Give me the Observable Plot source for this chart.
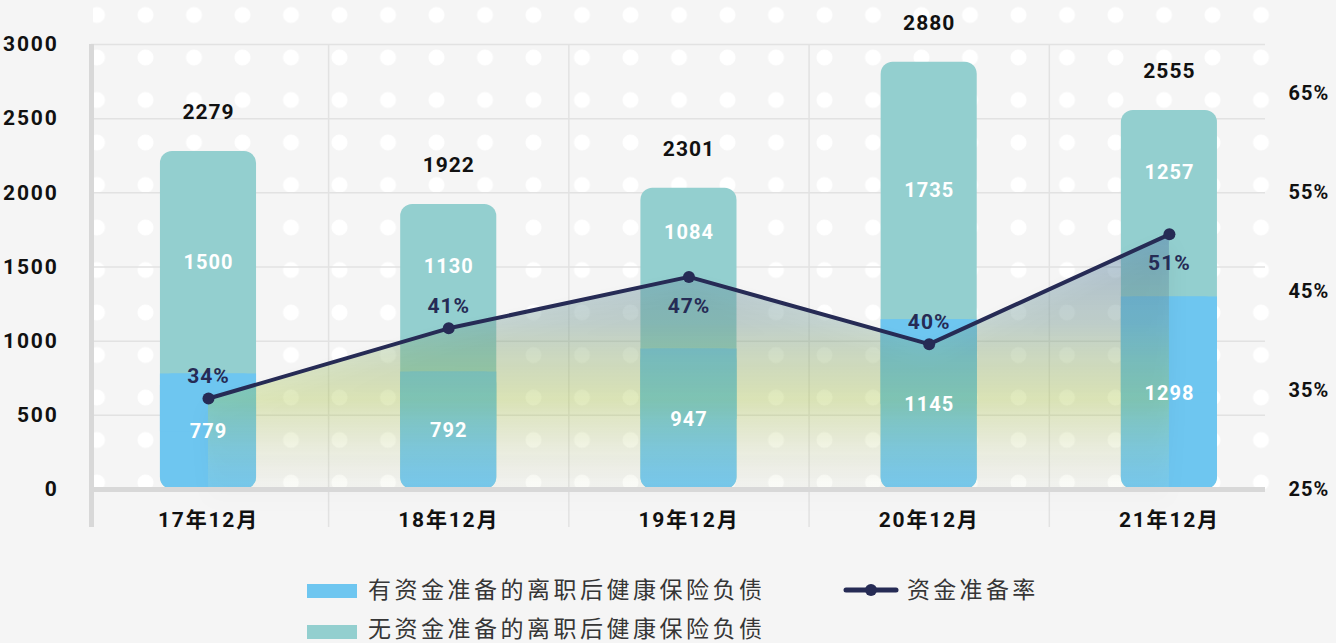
<!DOCTYPE html>
<html>
<head>
<meta charset="utf-8">
<script src="https://cdn.jsdelivr.net/npm/d3@7"></script>
<script src="https://cdn.jsdelivr.net/npm/@observablehq/plot@0.6"></script>
<style>
  html, body { margin: 0; padding: 0; background: #f5f5f5; }
  #wrap { position: relative; width: 1336px; height: 643px; overflow: hidden; background: #f5f5f5; }
  #dots { position: absolute; left: 93px; top: 0; width: 1182px; height: 490px;
    background-image: radial-gradient(circle, #ffffff 7.5px, rgba(255,255,255,0) 8.3px);
    background-size: 48.5px 42.5px; background-position: -20.25px -6.25px; }
  #chart { position: absolute; left: 0; top: 0; }
  .leg { position: absolute; font-family: "Noto Sans CJK SC", "Noto Sans", sans-serif; font-size: 23px; color: #363636; line-height: 1; white-space: nowrap; }
  .sw { position: absolute; width: 50px; height: 14px; }
</style>
</head>
<body>
<div id="wrap">
  <div id="dots"></div>
  <div id="chart"></div>
  <div class="sw" style="left:307px; top:584px; background:#6EC6F0"></div>
  <div class="leg" id="leg1" style="left:368px; top:577px; letter-spacing:3.5px"></div>
  <div class="sw" style="left:307px; top:625px; background:#93CFCF"></div>
  <div class="leg" id="leg2" style="left:368px; top:616px; letter-spacing:3.5px"></div>
  <svg style="position:absolute; left:842px; top:582px" width="60" height="16">
    <line x1="4" y1="8" x2="54" y2="8" stroke="#262B55" stroke-width="5" stroke-linecap="round"></line>
    <circle cx="29" cy="8" r="6" fill="#262B55"></circle>
  </svg>
  <div class="leg" id="leg3" style="left:907px; top:577px; letter-spacing:3.3px"></div>
</div>
<script>
// ---- data ----
const categories = ["17年12月", "18年12月", "19年12月", "20年12月", "21年12月"];
const funded = [779, 792, 947, 1145, 1298];
const unfunded = [1500, 1130, 1084, 1735, 1257];
const totalLabels = [2279, 1922, 2301, 2880, 2555];
const fundingRate = [34.2, 41.3, 46.5, 39.7, 50.8];
const leftTicks = [0, 500, 1000, 1500, 2000, 2500, 3000];
const rightTicks = [25, 35, 45, 55, 65];
const seriesNames = ["有资金准备的离职后健康保险负债", "无资金准备的离职后健康保险负债", "资金准备率"];

// ---- layout / style ----
const W = 1336, H = 550;
const rightMin = 25, rightMax = 70, leftMax = 3000;
const toLeft = p => (p - rightMin) * leftMax / (rightMax - rightMin);
const xDomain = [-0.487, 4.40];
const half = 0.2;
const BLUE = "#6EC6F0", TEAL = "#93CFCF", NAVY = "#262B55", GRID = "#e2e2e2", AXIS = "#d8d8d8";
const FONT = "Roboto, 'Noto Sans CJK SC', sans-serif";

const data = categories.map((c, i) => {
  const r = fundingRate[i];
  const prev = i > 0 ? fundingRate[i - 1] : -Infinity;
  const next = i < categories.length - 1 ? fundingRate[i + 1] : -Infinity;
  const rateY = toLeft(r);
  const total = funded[i] + unfunded[i];
  return {
    i, c, funded: funded[i], unfunded: unfunded[i], total,
    label: totalLabels[i], rate: r, rateY,
    rateText: Math.round(r) + "%",
    peak: r > prev && r > next,
    unfundedPos: (total + Math.max(funded[i], rateY)) / 2
  };
});

document.getElementById("leg1").textContent = seriesNames[0];
document.getElementById("leg2").textContent = seriesNames[1];
document.getElementById("leg3").textContent = seriesNames[2];

const chart = Plot.plot({
  width: W, height: H,
  marginLeft: 91, marginRight: 71, marginTop: 44, marginBottom: H - 527,
  style: { background: "transparent", fontFamily: FONT, overflow: "visible" },
  x: { type: "linear", domain: xDomain, axis: null },
  y: { domain: [0, leftMax], insetBottom: 38, axis: null },
  marks: [
    Plot.ruleY(leftTicks.filter(t => t > 0), { stroke: GRID, strokeWidth: 1.5 }),
    Plot.ruleX(data.slice(0, -1), { x: d => d.i + 0.5, stroke: GRID, strokeWidth: 1.5 }),
    Plot.rect(data, { x1: d => d.i - half, x2: d => d.i + half, y1: 0, y2: "total", fill: TEAL, rx: 12 }),
    Plot.rect(data, { x1: d => d.i - half, x2: d => d.i + half, y1: 0, y2: "funded", fill: BLUE, rx: 12 }),
    Plot.rect(data, { x1: d => d.i - half, x2: d => d.i + half, y1: d => d.funded / 2, y2: "funded", fill: BLUE }),
    Plot.areaY(data, { x: "i", y1: 0, y2: "rateY", fill: "url(#rateGrad)" }),
    Plot.ruleY([0], { stroke: AXIS, strokeWidth: 5 }),
    Plot.ruleX([xDomain[0]], { stroke: AXIS, strokeWidth: 5 }),
    Plot.line(data, { x: "i", y: "rateY", stroke: NAVY, strokeWidth: 4 }),
    Plot.dot(data, { x: "i", y: "rateY", r: 6, fill: NAVY }),
    // in-bar labels
    Plot.text(data, { x: "i", y: d => d.funded / 2, text: d => String(d.funded), fill: "white", fontSize: 20, fontWeight: 700, className: "sp1" }),
    Plot.text(data, { x: "i", y: "unfundedPos", text: d => String(d.unfunded), fill: "white", fontSize: 20, fontWeight: 700, className: "sp1" }),
    // totals
    Plot.text(data, { x: "i", y: "total", dy: -39, text: d => String(d.label), fill: "#111", fontSize: 21, fontWeight: 700, className: "sp1" }),
    // rate labels
    Plot.text(data.filter(d => !d.peak), { x: "i", y: "rateY", dy: -22, text: "rateText", fill: NAVY, fontSize: 21, fontWeight: 700, className: "sp1" }),
    Plot.text(data.filter(d => d.peak), { x: "i", y: "rateY", dy: 29, text: "rateText", fill: NAVY, fontSize: 21, fontWeight: 700, className: "sp1" }),
    // x labels
    Plot.text(data, { x: "i", y: 0, dy: 31, text: "c", fill: "#111", fontSize: 21, fontWeight: 700, className: "sp2" }),
    // axes
    Plot.axisY({ ticks: leftTicks, tickSize: 0, tickPadding: 33, tickFormat: d => String(d), fontSize: 21, fontWeight: 700, fill: "#111", className: "sp2" }),
    Plot.axisY({ anchor: "right", ticks: rightTicks.map(toLeft), tickSize: 0, tickPadding: 23,
      tickFormat: v => Math.round(v * (rightMax - rightMin) / leftMax + rightMin) + "%", fontSize: 20, fontWeight: 700, fill: "#111", className: "sp1" })
  ]
});

// gradient defs
const svgEl = chart.tagName.toLowerCase() === "svg" ? chart : chart.querySelector("svg");
const defs = d3.select(svgEl).insert("defs", ":first-child");
const g = defs.append("linearGradient").attr("id", "rateGrad").attr("x1", 0).attr("y1", 0).attr("x2", 0).attr("y2", 1);
g.append("stop").attr("offset", 0).attr("stop-color", "rgb(78,118,168)").attr("stop-opacity", 0.45);
g.append("stop").attr("offset", 0.35).attr("stop-color", "rgb(120,160,150)").attr("stop-opacity", 0.38);
g.append("stop").attr("offset", 0.65).attr("stop-color", "rgb(175,205,55)").attr("stop-opacity", 0.3);
g.append("stop").attr("offset", 1).attr("stop-color", "rgb(230,235,200)").attr("stop-opacity", 0.08);
d3.select(svgEl).selectAll("g[aria-label='area'] path").style("filter", "drop-shadow(0px 12px 10px rgba(0,0,0,0.13))");
d3.select(svgEl).selectAll(".sp1 text, text.sp1").style("letter-spacing", "1px");
d3.select(svgEl).selectAll(".sp2 text, text.sp2").style("letter-spacing", "1.8px");
d3.select(svgEl).selectAll("g.sp1 text").style("letter-spacing", "1px");
d3.select(svgEl).selectAll("g.sp2 text").style("letter-spacing", "1.8px");

document.getElementById("chart").appendChild(chart);
</script>
</body>
</html>
